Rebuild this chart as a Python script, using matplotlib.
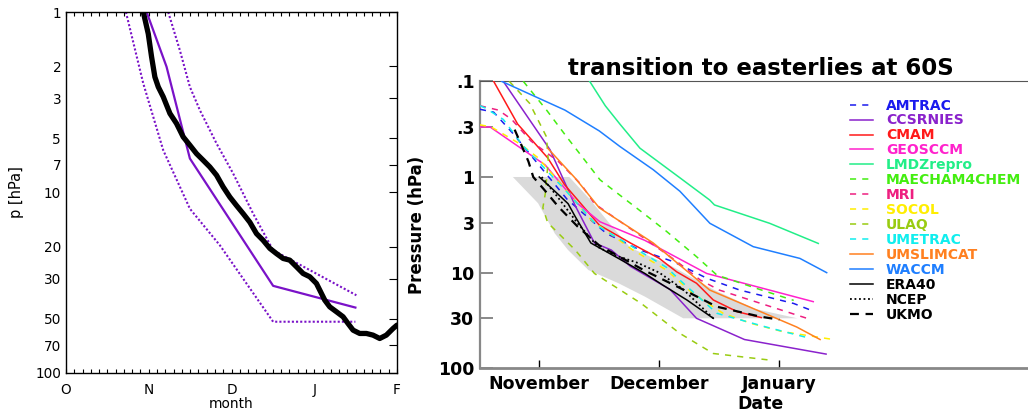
import matplotlib
matplotlib.use("Agg")
import matplotlib.pyplot as plt
from matplotlib.ticker import FixedLocator, NullLocator, MultipleLocator

# ---------------- left panel data (month axis: O=0, N=1, D=2, J=3, F=4) -------------
obs_month = [0.934, 0.994, 1.034, 1.074, 1.115, 1.175, 1.256, 1.336, 1.416, 1.497, 1.577,
             1.658, 1.738, 1.819, 1.899, 1.980, 2.060, 2.141, 2.221, 2.302, 2.382, 2.463,
             2.543, 2.624, 2.704, 2.785, 2.865, 2.946, 3.026, 3.066, 3.127, 3.187, 3.268,
             3.348, 3.408, 3.469, 3.549, 3.630, 3.710, 3.791, 3.871, 3.952, 4.0]
obs_p = [1.0, 1.32, 1.77, 2.29, 2.60, 2.95, 3.65, 4.15, 4.92, 5.47, 6.09,
         6.63, 7.22, 8.02, 9.31, 10.6, 11.8, 13.1, 14.6, 16.9, 18.4, 20.4,
         21.8, 23.2, 23.7, 25.8, 28.1, 29.3, 31.9, 34.7, 39.5, 43.0, 45.8,
         48.8, 53.2, 57.9, 60.4, 60.4, 61.7, 64.4, 61.7, 56.7, 54.3]
mean_month = [0.974, 1.215, 1.497, 2.503, 3.497]
mean_p = [1.0, 2.01, 6.48, 32.9, 43.4]
upper_month = [1.235, 1.376, 1.497, 1.618, 1.819, 2.020, 2.262, 2.503, 3.509]
upper_p = [1.0, 1.63, 2.6, 3.5, 5.35, 7.85, 13.1, 20.9, 37.1]
lower_month = [0.724, 0.934, 1.175, 1.497, 1.859, 2.503, 3.497]
lower_p = [1.0, 2.49, 5.83, 12.3, 19.6, 52.0, 52.0]
left_xticks = [0, 1, 2, 3, 4]
left_xlabels = ["O", "N", "D", "J", "F"]
left_yticks = [1, 2, 3, 5, 7, 10, 20, 30, 50, 70, 100]

# ---------------- right panel data (x: November=1, December=2, January=3) ----------
AMTRAC_x = [0.506, 0.62, 0.78, 1.23, 1.56, 1.84, 2.12, 2.40, 2.67, 3.12, 3.26]
AMTRAC_p = [0.196, 0.21, 0.35, 1.7, 3.9, 5.8, 7.7, 11.5, 15.2, 21.0, 24.6]
CCSRNIES_x = [0.70, 1.09, 1.30, 1.46, 1.60, 1.76, 2.09, 2.31, 2.71, 3.39]
CCSRNIES_p = [0.1, 0.52, 2.0, 4.9, 5.8, 8.6, 15.0, 30.0, 50.0, 71.0]
CMAM_x = [0.62, 0.82, 1.07, 1.21, 1.50, 1.76, 2.0, 2.145, 2.31, 2.45, 2.65, 2.85]
CMAM_p = [0.1, 0.28, 0.63, 1.2, 3.18, 4.9, 7.1, 9.8, 12.9, 19.3, 25.6, 29.5]
GEOSCCM_x = [0.506, 0.59, 1.05, 1.32, 1.506, 1.88, 2.395, 3.283]
GEOSCCM_p = [0.30, 0.30, 0.75, 1.9, 2.94, 4.6, 10.2, 20.1]
LMDZrepro_x = [1.42, 1.55, 1.672, 1.839, 2.172, 2.42, 2.46, 2.92, 3.325]
LMDZrepro_p = [0.1, 0.18, 0.28, 0.50, 1.02, 1.74, 1.96, 3.05, 4.95]
MAECHAM4CHEM_x = [0.867, 1.061, 1.228, 1.506, 1.672, 1.865, 2.06, 2.31, 2.48, 2.81, 3.12]
MAECHAM4CHEM_p = [0.1, 0.2, 0.38, 1.07, 1.55, 2.38, 3.7, 6.8, 10.6, 14.6, 19.5]
MRI_x = [0.506, 0.66, 0.77, 0.93, 1.16, 1.35, 1.46, 1.90, 2.15, 2.34, 2.50, 3.23]
MRI_p = [0.18, 0.20, 0.25, 0.42, 0.69, 1.2, 1.9, 4.6, 7.7, 11.9, 15.2, 30.0]
SOCOL_x = [0.506, 0.60, 0.85, 0.99, 1.23, 1.43, 1.78, 2.06, 2.28, 2.53, 2.76, 3.03, 3.45]
SOCOL_p = [0.285, 0.30, 0.46, 0.63, 1.4, 2.8, 5.8, 9.4, 16.5, 26.5, 33.8, 41.4, 50.0]
ULAQ_x = [0.75, 0.92, 1.06, 1.075, 1.05, 1.03, 1.07, 1.30, 1.46, 1.85, 2.17, 2.45, 2.92]
ULAQ_p = [0.1, 0.17, 0.38, 0.67, 1.5, 2.1, 3.0, 5.8, 10.2, 21.0, 43.0, 70.0, 82.0]
UMETRAC_x = [0.506, 0.55, 0.70, 0.87, 1.20, 1.48, 1.78, 2.06, 2.20, 2.48, 2.89, 3.26]
UMETRAC_p = [0.18, 0.19, 0.25, 0.48, 1.3, 3.2, 5.4, 8.8, 12.9, 26.6, 37.0, 48.7]
UMSLIMCAT_x = [1.07, 1.30, 1.50, 1.95, 2.42, 3.145, 3.34]
UMSLIMCAT_p = [0.50, 1.03, 2.1, 4.9, 15.2, 37.0, 50.0]
WACCM_x = [0.686, 1.214, 1.50, 1.672, 1.95, 2.172, 2.422, 2.783, 3.172, 3.395]
WACCM_p = [0.1, 0.2, 0.33, 0.48, 0.84, 1.41, 3.05, 5.35, 7.1, 10.0]
ERA40_x = [1.0, 1.1, 1.24, 1.30, 1.43, 1.66, 1.88, 2.03, 2.23, 2.45]
ERA40_p = [1.0, 1.3, 1.9, 2.6, 4.9, 7.1, 10.2, 13.5, 19.3, 30.0]
NCEP_x = [1.02, 1.15, 1.32, 1.49, 1.62, 1.82, 2.0, 2.2, 2.45]
NCEP_p = [1.0, 1.6, 3.05, 5.4, 6.5, 7.9, 10.0, 15.0, 30.0]
UKMO_x = [0.795, 0.85, 0.91, 0.95, 1.05, 1.16, 1.32, 1.50, 1.87, 2.15, 2.48, 2.84, 3.0]
UKMO_p = [0.32, 0.46, 0.69, 1.0, 1.4, 2.05, 3.3, 5.2, 9.4, 14.0, 22.7, 28.8, 31.0]
# grey range of observations (polygon outline)
band_x = [0.78, 1.25, 1.42, 1.58, 1.76, 2.1, 2.45, 2.8, 3.15, 2.2, 1.88, 1.66, 1.41, 1.24, 1.13, 0.99, 0.78]
band_p = [1.0, 1.0, 1.7, 3.0, 5.5, 8.5, 15.0, 24.0, 30.0, 30.0, 17.8, 12.9, 9.4, 5.8, 3.9, 1.88, 1.0]

right_xticks = [1, 2, 3]
right_xlabels = ["November", "December", "January"]
right_yticks = [0.1, 0.3, 1, 3, 10, 30, 100]
right_ylabels = [".1", ".3", "1", "3", "10", "30", "100"]

DASH = (0, (4, 4))
series = [
    ("AMTRAC", AMTRAC_x, AMTRAC_p, "#1a1aee", DASH, 1.1),
    ("CCSRNIES", CCSRNIES_x, CCSRNIES_p, "#8a22cc", "-", 1.1),
    ("CMAM", CMAM_x, CMAM_p, "#ff1a1a", "-", 1.1),
    ("GEOSCCM", GEOSCCM_x, GEOSCCM_p, "#ff22cc", "-", 1.1),
    ("LMDZrepro", LMDZrepro_x, LMDZrepro_p, "#22ee88", "-", 1.1),
    ("MAECHAM4CHEM", MAECHAM4CHEM_x, MAECHAM4CHEM_p, "#44ee11", DASH, 1.1),
    ("MRI", MRI_x, MRI_p, "#ee1f80", DASH, 1.1),
    ("SOCOL", SOCOL_x, SOCOL_p, "#ffee00", DASH, 1.1),
    ("ULAQ", ULAQ_x, ULAQ_p, "#99cc11", DASH, 1.1),
    ("UMETRAC", UMETRAC_x, UMETRAC_p, "#11eeee", DASH, 1.1),
    ("UMSLIMCAT", UMSLIMCAT_x, UMSLIMCAT_p, "#ff8020", "-", 1.1),
    ("WACCM", WACCM_x, WACCM_p, "#1f7fff", "-", 1.1),
    ("ERA40", ERA40_x, ERA40_p, "black", "-", 1.1),
    ("NCEP", NCEP_x, NCEP_p, "black", (0, (1, 1.5)), 1.3),
    ("UKMO", UKMO_x, UKMO_p, "black", (0, (4, 3)), 1.6),
]

fig = plt.figure(figsize=(10.28, 4.13), dpi=100)

# ======================= left panel =======================
lf = "DejaVu Sans"
ax1 = fig.add_axes([0.0642, 0.0969, 0.322, 0.874])
ax1.set_yscale("log")
ax1.plot(lower_month, lower_p, color="#7a12c8", lw=1.5, ls=(0, (1, 1)))
ax1.plot(upper_month, upper_p, color="#7a12c8", lw=1.5, ls=(0, (1, 1)))
ax1.plot(mean_month, mean_p, color="#7a12c8", lw=1.6)
ax1.plot(obs_month, obs_p, color="black", lw=3.8, solid_capstyle="round", solid_joinstyle="round")
ax1.set_xlim(0, 4)
ax1.set_ylim(100, 1)
ax1.yaxis.set_major_locator(FixedLocator(left_yticks))
ax1.yaxis.set_minor_locator(NullLocator())
ax1.set_yticklabels([str(v) for v in left_yticks], fontfamily=lf, fontsize=9.8)
ax1.set_xticks(left_xticks)
ax1.set_xticklabels(left_xlabels, fontfamily=lf, fontsize=9.8)
ax1.xaxis.set_minor_locator(MultipleLocator(0.1))
ax1.tick_params(axis="x", which="both", direction="in", top=True, bottom=True,
                length=3, width=0.8, pad=7)
ax1.tick_params(axis="y", which="major", direction="in", left=False, right=True,
                length=6, width=0.8, pad=3.5)
ax1.set_xlabel("month", fontfamily=lf, fontsize=9.8, labelpad=0.5)
ax1.set_ylabel("p [hPa]", fontfamily=lf, fontsize=10.5, labelpad=8)
for s in ax1.spines.values():
    s.set_linewidth(1.0)

# ======================= right panel =======================
rf = "DejaVu Sans"
ax2 = fig.add_axes([0.4669, 0.1082, 0.5467, 0.6949])
ax2.set_yscale("log")
ax2.fill(band_x, band_p, color="#dadada", lw=0, zorder=1)
handles = []
for name, xs, ps, col, ls, lw in series:
    ln, = ax2.plot(xs, ps, color=col, ls=ls, lw=lw, zorder=3, label=name)
    handles.append(ln)
ax2.set_xlim(0.506, 5.189)
ax2.set_ylim(100, 0.1)
ax2.yaxis.set_major_locator(FixedLocator(right_yticks))
ax2.yaxis.set_minor_locator(NullLocator())
ax2.set_yticklabels(right_ylabels, fontfamily=rf, fontweight="bold", fontsize=12.5)
ax2.set_xticks(right_xticks)
ax2.set_xticklabels(right_xlabels, fontfamily=rf, fontweight="bold", fontsize=12.5)
ax2.tick_params(axis="y", direction="in", length=9, width=1.4, color="#888888", pad=4)
ax2.tick_params(axis="x", direction="in", length=6, width=1.0, color="black", pad=5)
ax2.set_xlabel("Date", fontfamily=rf, fontweight="bold", fontsize=12.5, labelpad=1)
ax2.set_ylabel("Pressure (hPa)", fontfamily=rf, fontweight="bold", fontsize=12, labelpad=9)
ax2.set_title("transition to easterlies at 60S", fontfamily=rf, fontweight="bold",
              fontsize=16.5, pad=4.5)
ax2.spines["left"].set_color("#888888")
ax2.spines["left"].set_linewidth(1.6)
ax2.spines["bottom"].set_color("#888888")
ax2.spines["bottom"].set_linewidth(2.0)
ax2.spines["top"].set_color("#555555")
ax2.spines["top"].set_linewidth(0.8)
ax2.spines["right"].set_visible(False)

leg = ax2.legend(handles=handles, loc="upper left", bbox_to_anchor=(0.8268, 0.7614),
                 bbox_transform=fig.transFigure, frameon=False,
                 prop={"family": rf, "weight": "bold", "size": 10},
                 handlelength=1.65, handletextpad=0.95, labelspacing=0.067,
                 borderpad=0, borderaxespad=0, labelcolor="linecolor")

fig.savefig("out.png", dpi=100)
